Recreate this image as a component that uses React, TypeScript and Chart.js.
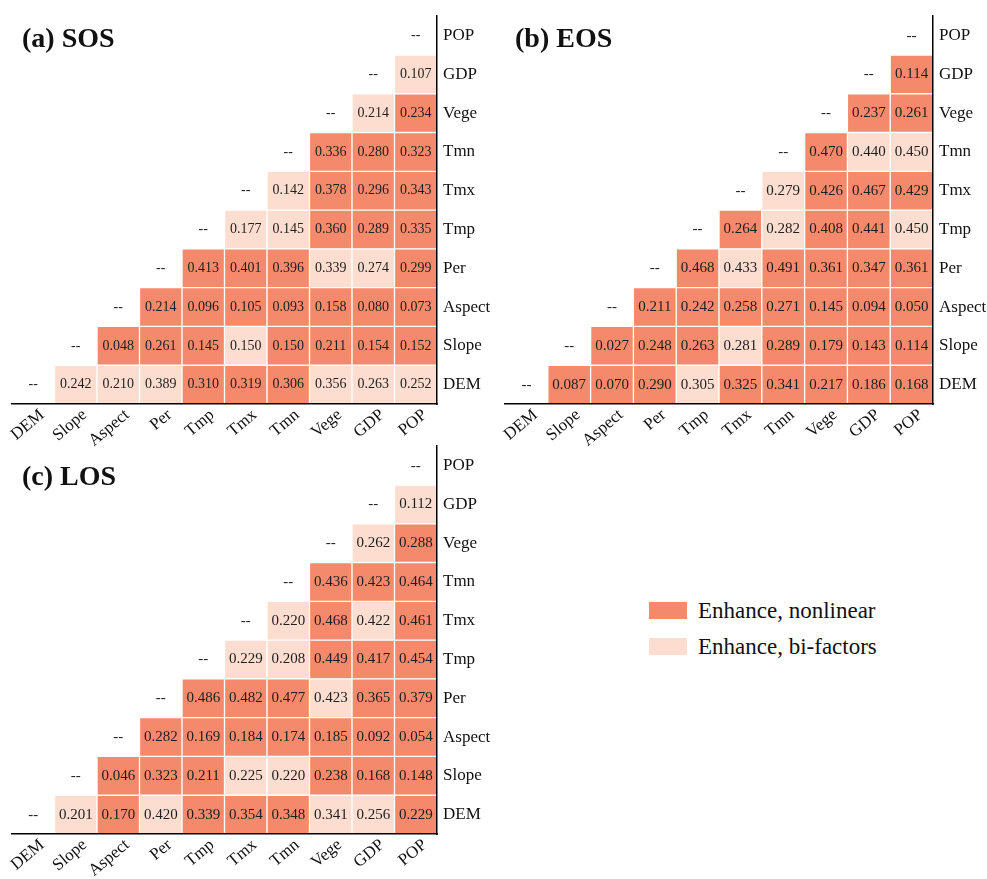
import React, { useEffect, useRef } from 'react';
import { Chart, registerables } from 'chart.js';

Chart.register(...registerables);

// Factor names (x: left → right, y: bottom → top)
const factors = ['DEM', 'Slope', 'Aspect', 'Per', 'Tmp', 'Tmx', 'Tmn', 'Vege', 'GDP', 'POP'];

// Row r (factor r) holds values for columns r+1 .. 9
const sosValues = [
  [0.242, 0.210, 0.389, 0.310, 0.319, 0.306, 0.356, 0.263, 0.252],
  [0.048, 0.261, 0.145, 0.150, 0.150, 0.211, 0.154, 0.152],
  [0.214, 0.096, 0.105, 0.093, 0.158, 0.080, 0.073],
  [0.413, 0.401, 0.396, 0.339, 0.274, 0.299],
  [0.177, 0.145, 0.360, 0.289, 0.335],
  [0.142, 0.378, 0.296, 0.343],
  [0.336, 0.280, 0.323],
  [0.214, 0.234],
  [0.107],
];
// N = Enhance, nonlinear ; B = Enhance, bi-factors
const sosTypes = ['BBBNNNBBB', 'NNNBNNNN', 'NNNNNNN', 'NNNBBN', 'BBNNN', 'BNNN', 'NNN', 'BN', 'B'];

const eosValues = [
  [0.087, 0.070, 0.290, 0.305, 0.325, 0.341, 0.217, 0.186, 0.168],
  [0.027, 0.248, 0.263, 0.281, 0.289, 0.179, 0.143, 0.114],
  [0.211, 0.242, 0.258, 0.271, 0.145, 0.094, 0.050],
  [0.468, 0.433, 0.491, 0.361, 0.347, 0.361],
  [0.264, 0.282, 0.408, 0.441, 0.450],
  [0.279, 0.426, 0.467, 0.429],
  [0.470, 0.440, 0.450],
  [0.237, 0.261],
  [0.114],
];
const eosTypes = ['NNNBNNNNN', 'NNNBNNNN', 'NNNNNNN', 'NBNNNN', 'NBNNB', 'BNNN', 'NBB', 'NN', 'N'];

const losValues = [
  [0.201, 0.170, 0.420, 0.339, 0.354, 0.348, 0.341, 0.256, 0.229],
  [0.046, 0.323, 0.211, 0.225, 0.220, 0.238, 0.168, 0.148],
  [0.282, 0.169, 0.184, 0.174, 0.185, 0.092, 0.054],
  [0.486, 0.482, 0.477, 0.423, 0.365, 0.379],
  [0.229, 0.208, 0.449, 0.417, 0.454],
  [0.220, 0.468, 0.422, 0.461],
  [0.436, 0.423, 0.464],
  [0.262, 0.288],
  [0.112],
];
const losTypes = ['BNBNNNBBN', 'NNNBBNNN', 'NNNNNNN', 'NNNBNN', 'BBNNN', 'BNBN', 'NNN', 'BN', 'B'];

const legendLabels = ['Enhance, nonlinear', 'Enhance, bi-factors'];

const DARK = '#F5896B';
const LIGHT = '#FCDDCF';
const FONT = '"Liberation Serif", "Times New Roman", serif';

function buildDatasets(values: number[][], types: string[]) {
  return values.map((row, r) => ({
    label: factors[r],
    data: factors.map((_, c) => (c > r ? [r, r + 1] : null)),
    backgroundColor: factors.map((_, c) =>
      c > r ? (types[r][c - r - 1] === 'N' ? DARK : LIGHT) : 'rgba(0,0,0,0)'
    ),
    borderColor: '#ffffff',
    borderWidth: 1,
    borderSkipped: false,
    barPercentage: 1,
    categoryPercentage: 1,
    grouped: false,
  }));
}

function cellTextPlugin(values: number[][], size: number) {
  return {
    id: 'cellText',
    afterDatasetsDraw(chart: any) {
      const { ctx, scales } = chart;
      const x = scales.x;
      const y = scales.y;
      ctx.save();
      ctx.font = `${size}px ${FONT}`;
      ctx.textAlign = 'center';
      ctx.textBaseline = 'middle';
      ctx.fillStyle = '#1e1e1e';
      for (let r = 0; r < factors.length; r++) {
        const py = y.getPixelForValue(r + 0.5);
        ctx.fillText('--', x.getPixelForValue(r), py);
        const row = values[r] || [];
        row.forEach((v, i) => {
          ctx.fillText(v.toFixed(3), x.getPixelForValue(r + 1 + i), py);
        });
      }
      ctx.restore();
    },
  };
}

interface PanelProps {
  values: number[][];
  types: string[];
  left: number;
  top: number;
  width: number;
  height: number;
  padLeft: number;
  padTop: number;
  axisW: number;
  axisH: number;
  textSize: number;
}

function Panel(p: PanelProps) {
  const ref = useRef<HTMLCanvasElement | null>(null);
  useEffect(() => {
    if (!ref.current) return;
    const chart = new Chart(ref.current, {
      type: 'bar',
      data: { labels: factors, datasets: buildDatasets(p.values, p.types) as any },
      options: {
        animation: false,
        responsive: false,
        maintainAspectRatio: false,
        layout: { padding: { left: p.padLeft, top: p.padTop, right: 0, bottom: 0 } },
        plugins: { legend: { display: false }, tooltip: { enabled: false } },
        scales: {
          x: {
            type: 'category',
            offset: true,
            grid: { display: false, drawTicks: false },
            border: { display: true, color: '#000', width: 1.5, z: 1 },
            ticks: {
              autoSkip: false,
              minRotation: 40,
              maxRotation: 40,
              padding: 1,
              labelOffset: 9,
              color: '#111',
              font: { family: FONT, size: 17 },
            },
            afterFit(s: any) {
              s.height = p.axisH;
            },
          },
          y: {
            type: 'linear',
            position: 'right',
            min: 0,
            max: 10,
            grid: { display: false, drawTicks: false },
            border: { display: true, color: '#000', width: 1.5, z: 1 },
            afterBuildTicks(s: any) {
              s.ticks = factors.map((_, i) => ({ value: i + 0.5 }));
            },
            ticks: {
              padding: 6,
              color: '#111',
              font: { family: FONT, size: 17 },
              callback: (v: any) => factors[Math.floor(Number(v))],
            },
            afterFit(s: any) {
              s.width = p.axisW;
            },
          },
        },
      } as any,
      plugins: [cellTextPlugin(p.values, p.textSize)],
    });
    return () => chart.destroy();
  }, []);
  return (
    <canvas
      ref={ref}
      width={p.width}
      height={p.height}
      style={{ position: 'absolute', left: p.left, top: p.top, width: p.width, height: p.height }}
    />
  );
}

const titleStyle = (left: number, top: number): React.CSSProperties => ({
  position: 'absolute',
  left,
  top,
  fontFamily: FONT,
  fontWeight: 'bold',
  fontSize: 28,
  lineHeight: 1,
  color: '#111',
  whiteSpace: 'nowrap',
});

export default function App() {
  useEffect(() => {
    document.body.style.margin = '0';
  }, []);
  return (
    <div style={{ position: 'relative', width: 987, height: 879, background: '#fff', overflow: 'hidden' }}>
      <Panel values={sosValues} types={sosTypes} left={0} top={0} width={493} height={450}
        padLeft={12} padTop={12} axisW={56} axisH={46} textSize={14} />
      <Panel values={eosValues} types={eosTypes} left={493} top={0} width={494} height={450}
        padLeft={12} padTop={12} axisW={54} axisH={46} textSize={15} />
      <Panel values={losValues} types={losTypes} left={0} top={430} width={493} height={449}
        padLeft={12} padTop={12} axisW={56} axisH={45} textSize={15} />
      <div style={titleStyle(22, 24)}>(a) SOS</div>
      <div style={titleStyle(515, 24)}>(b) EOS</div>
      <div style={titleStyle(22, 462)}>(c) LOS</div>
      {legendLabels.map((lab, i) => (
        <div key={lab} style={{ position: 'absolute', left: 649, top: 602 + i * 36, display: 'flex', alignItems: 'center' }}>
          <div style={{ width: 38, height: 17, background: i === 0 ? DARK : LIGHT }} />
          <div style={{ marginLeft: 11, fontFamily: FONT, fontSize: 23, lineHeight: '17px', color: '#111', whiteSpace: 'nowrap' }}>{lab}</div>
        </div>
      ))}
    </div>
  );
}
